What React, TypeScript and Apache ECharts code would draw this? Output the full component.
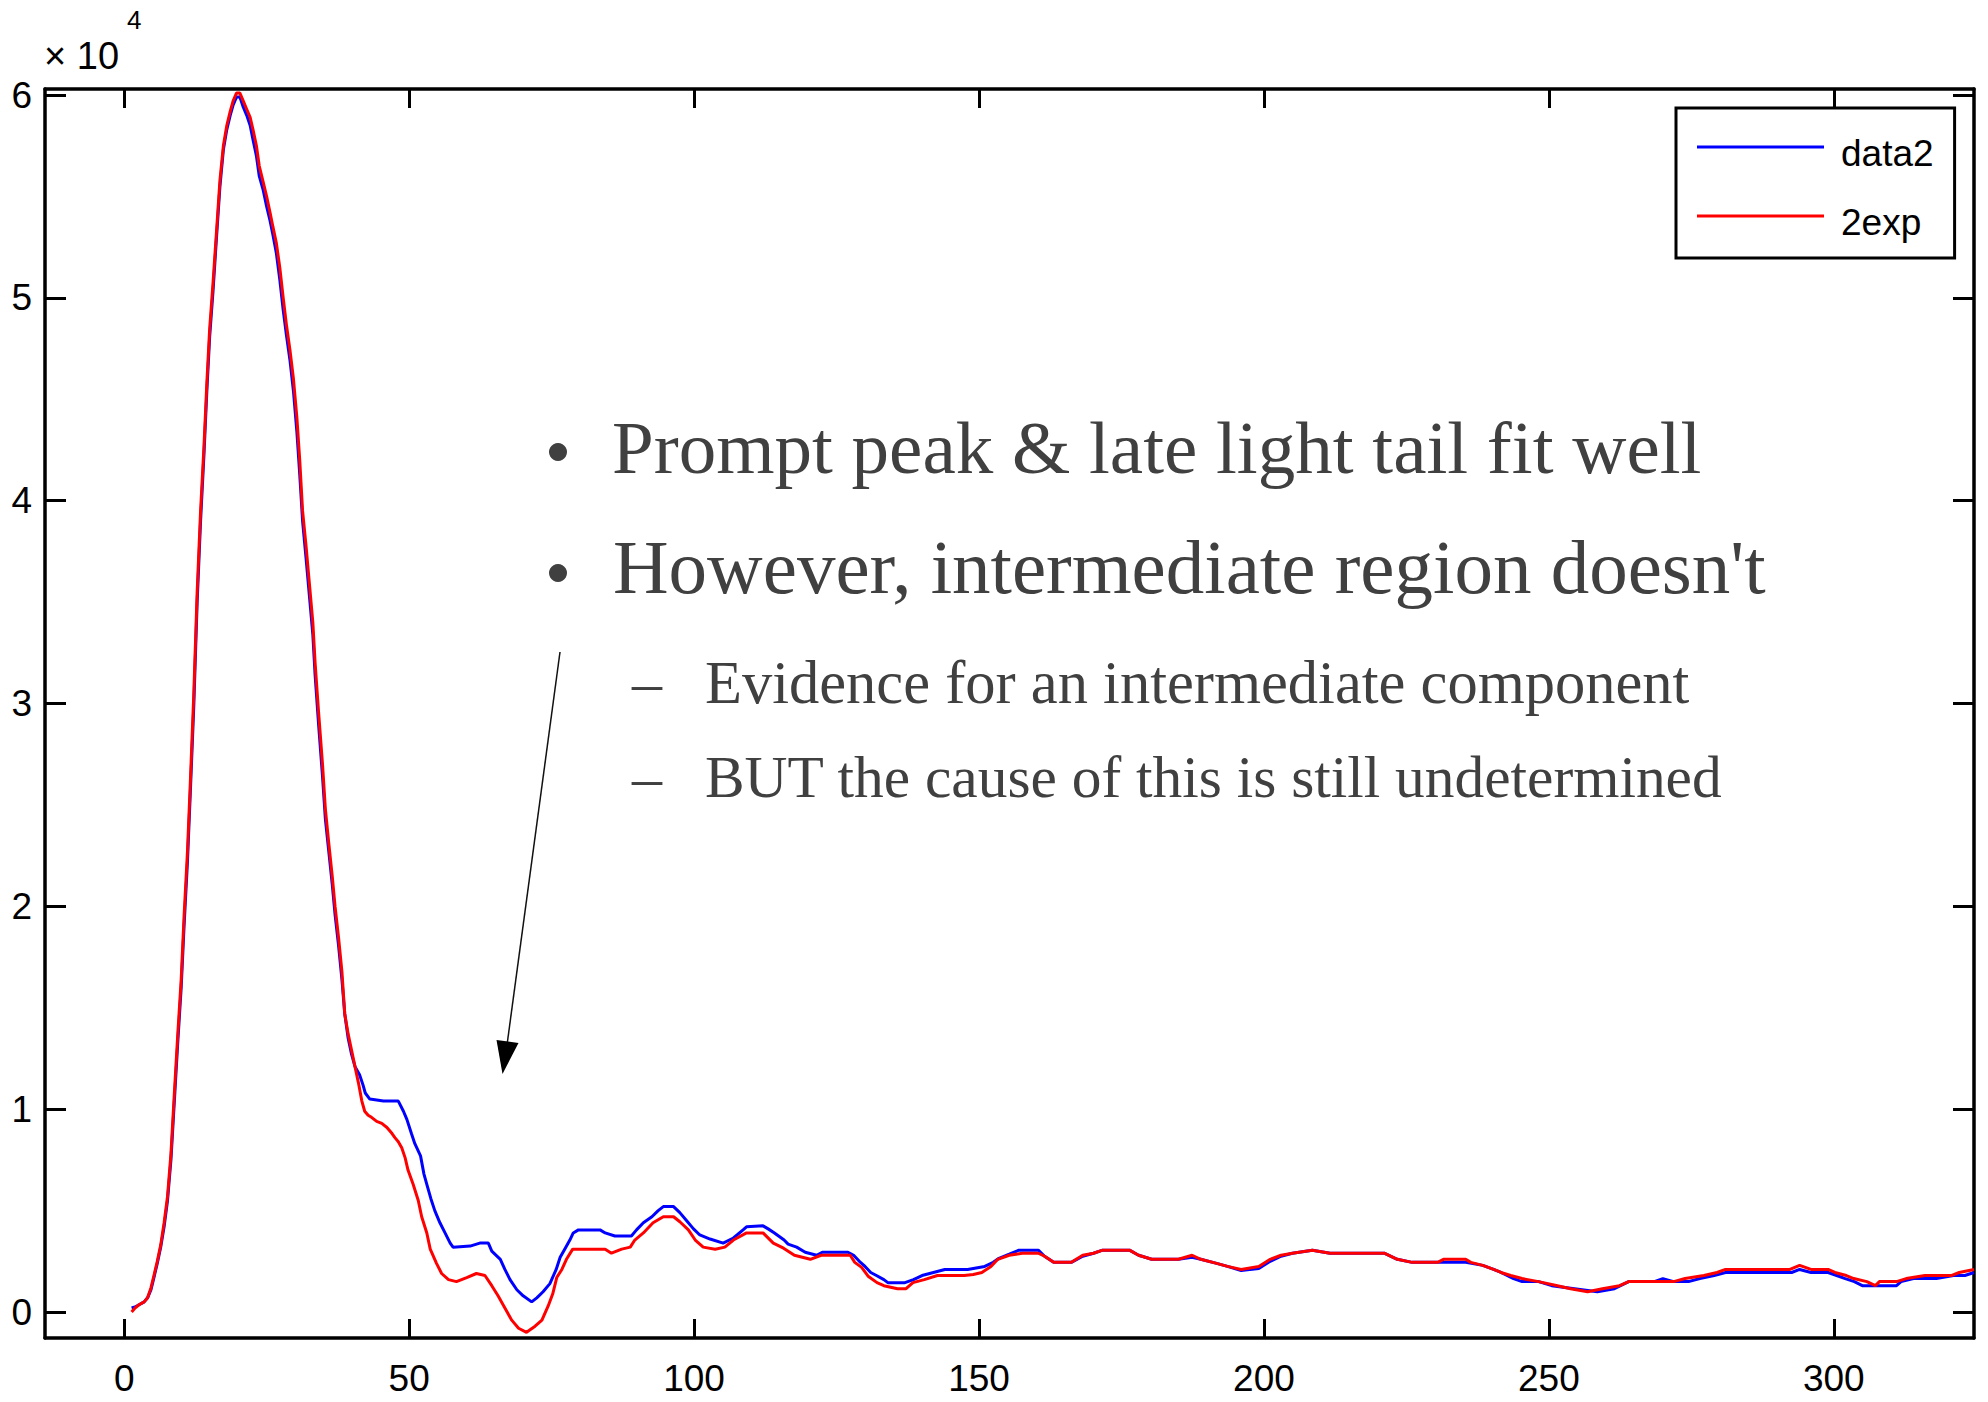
import React, { useEffect, useRef } from "react";
import * as echarts from "echarts";

// ---------- tick labels / axis ranges ----------
const xTicks = [0, 50, 100, 150, 200, 250, 300];
const yTicks = [0, 10000, 20000, 30000, 40000, 50000, 60000];
const X_MIN = -13.9;
const X_MAX = 324.6;
const Y_MIN = -1280;
const Y_MAX = 60300;

const legendNames = ["data2", "2exp"];
const bulletLines = [
  "Prompt peak & late light tail fit well",
  "However, intermediate region doesn't",
];
const subBulletLines = [
  "Evidence for an intermediate component",
  "BUT the cause of this is still undetermined",
];

// ---------- data2 (measured) ----------
const data2Peak: [number, number][] = [
  [1.3, 200], [1.9, 250], [2.6, 360], [3.5, 500], [4.1, 700], [4.7, 1100], [5.3, 1800], [5.8, 2400],
  [6.4, 3200], [7.0, 4200], [7.6, 5500], [8.2, 7500], [8.8, 10400], [9.4, 13300], [10.0, 16000],
  [10.5, 19000], [11.1, 22200], [11.6, 25600], [12.2, 29800], [12.8, 35000], [13.4, 39000],
  [14.0, 42300], [14.5, 45400], [15.0, 48100], [15.6, 50400], [16.2, 53000], [16.8, 55500],
  [17.4, 57300], [18.0, 58300], [18.6, 59000], [19.1, 59500], [19.7, 59900], [20.3, 59900],
  [20.9, 59400], [21.5, 59000], [22.1, 58500], [22.6, 57800], [23.2, 57000], [23.7, 56000],
  [24.4, 55300], [25.0, 54500], [25.6, 53800], [26.1, 53100], [26.7, 52200], [27.3, 50900],
  [27.9, 49400], [28.5, 48100], [29.1, 46900], [29.7, 45400], [30.3, 43400], [30.8, 41300],
  [31.3, 39000], [31.9, 37200], [32.5, 35300], [33.1, 33400], [33.5, 31400], [34.1, 29000],
  [34.8, 26400], [35.3, 24300], [35.9, 22700], [36.5, 21100], [37.0, 19600], [37.6, 18100],
  [38.2, 16400], [38.7, 14700], [39.3, 13500], [39.9, 12700], [40.5, 12100], [41.3, 11700],
  [41.9, 11200], [42.3, 10800], [43.1, 10500], [45.5, 10400], [48.1, 10400],
];
const data2Mid: [number, number][] = [
  [49.0, 9900], [49.6, 9500], [50.4, 8800], [51.0, 8300], [52.0, 7700], [52.6, 6800], [53.2, 6200],
  [53.8, 5600], [54.5, 5000], [55.4, 4400], [56.3, 3900], [57.2, 3400], [57.7, 3200], [60.7, 3250],
  [62.4, 3400], [63.9, 3400], [64.5, 3000], [66.0, 2600], [66.8, 2100], [67.7, 1600], [68.9, 1100],
  [70.0, 800], [71.5, 500], [72.4, 700], [73.5, 1000], [74.7, 1400], [75.8, 2100], [76.5, 2700],
  [77.3, 3100], [78.2, 3550], [78.8, 3900], [79.7, 4050], [83.5, 4050], [84.4, 3900], [86.1, 3750],
  [89.0, 3750], [89.9, 4050], [91.1, 4400], [92.6, 4700], [93.7, 5000], [94.6, 5200], [96.4, 5200],
  [97.5, 4900], [98.7, 4500], [99.9, 4100], [101.0, 3800], [102.8, 3600], [105.1, 3400],
  [106.9, 3650], [108.6, 4050], [109.2, 4200], [112.1, 4250], [113.0, 4100], [114.1, 3900],
  [115.8, 3550], [116.5, 3350], [118.0, 3200], [119.5, 2950], [121.5, 2800], [122.5, 2950],
  [127.0, 2950], [128.0, 2800], [129.0, 2500], [130.0, 2250], [131.0, 1950], [132.0, 1800],
  [133.3, 1600], [134.0, 1450], [137.0, 1450], [138.5, 1600], [140.0, 1800], [142.0, 1950],
  [144.0, 2100], [148.0, 2100],
];
const data2Tail: [number, number][] = [
  [151.0, 2250], [152.5, 2450], [153.5, 2650], [155.3, 2850], [157.0, 3050], [160.4, 3050],
  [161.5, 2750], [163.1, 2450], [166.2, 2450], [168.2, 2750], [170.1, 2900], [171.7, 3050],
  [176.4, 3050], [178.0, 2800], [180.3, 2600], [185.0, 2600], [187.4, 2700], [188.9, 2600],
  [191.7, 2400], [193.6, 2250], [196.0, 2050], [199.1, 2150], [201.1, 2500], [203.0, 2750],
  [205.0, 2900], [208.5, 3050], [211.6, 2900], [221.1, 2900], [223.4, 2600], [226.0, 2450],
  [235.4, 2450], [238.4, 2300], [240.3, 2100], [241.6, 1950], [243.8, 1650], [245.3, 1500],
  [248.2, 1500], [250.5, 1300], [254.5, 1150], [258.5, 1000], [261.5, 1150], [264.0, 1500],
  [268.5, 1500], [270.0, 1650], [271.9, 1500], [274.5, 1500], [276.5, 1650], [279.0, 1800],
  [281.0, 1950], [292.6, 1950], [294.0, 2100], [296.0, 1950], [299.0, 1950], [300.5, 1800],
  [302.0, 1650], [303.6, 1500], [305.0, 1300], [311.0, 1300], [311.8, 1500], [314.0, 1650],
  [318.0, 1650], [321.0, 1800], [323.0, 1800], [324.6, 1950],
];

// ---------- 2exp (fit) ----------
const fitPeak: [number, number][] = [
  [1.3, 0], [1.9, 200], [2.6, 360], [3.5, 500], [4.1, 700], [4.7, 1200], [5.3, 1900], [5.8, 2500],
  [6.4, 3300], [7.0, 4400], [7.6, 5700], [8.2, 7800], [8.8, 10800], [9.4, 13700], [10.0, 16400],
  [10.5, 19500], [11.1, 22700], [11.6, 26100], [12.2, 30400], [12.8, 35500], [13.4, 39500],
  [14.0, 42700], [14.5, 45800], [15.0, 48500], [15.6, 50800], [16.2, 53300], [16.8, 55800],
  [17.4, 57500], [18.0, 58500], [18.6, 59200], [19.1, 59700], [19.7, 60100], [20.3, 60100],
  [20.9, 59700], [21.5, 59300], [22.1, 58900], [22.6, 58300], [23.2, 57500], [23.7, 56500],
  [24.4, 55700], [25.0, 55000], [25.6, 54200], [26.1, 53500], [26.7, 52700], [27.3, 51500],
  [27.9, 50000], [28.5, 48600], [29.1, 47400], [29.7, 46000], [30.3, 44100], [30.8, 42000],
  [31.3, 39500], [31.9, 37800], [32.5, 35900], [33.1, 34000], [33.5, 32000], [34.1, 29600],
  [34.8, 27000], [35.3, 24800], [35.9, 23100], [36.5, 21500], [37.0, 20000], [37.6, 18500],
  [38.2, 16800], [38.7, 14700], [39.3, 13700], [39.9, 12900], [40.5, 12100], [41.1, 11300],
  [41.7, 10400], [42.2, 9900], [42.8, 9700], [43.4, 9600], [44.3, 9400], [45.2, 9300],
  [46.1, 9100], [47.0, 8800], [47.5, 8600], [48.1, 8400],
];
const fitMid: [number, number][] = [
  [48.7, 8100], [49.3, 7600], [49.8, 7000], [50.7, 6300], [51.6, 5500], [52.2, 4700], [53.1, 3900],
  [53.7, 3100], [54.8, 2400], [55.7, 1900], [56.9, 1600], [58.3, 1500], [60.1, 1700], [61.8, 1900],
  [63.3, 1800], [64.5, 1300], [65.6, 800], [66.8, 200], [68.0, -400], [69.2, -800], [70.6, -1000],
  [72.1, -700], [73.3, -400], [74.4, 300], [75.2, 900], [75.9, 1700], [76.8, 2100], [77.6, 2600],
  [78.7, 3100], [84.4, 3100], [85.5, 2900], [87.3, 3100], [88.8, 3200], [89.6, 3550], [91.1, 3900],
  [92.8, 4400], [94.6, 4700], [96.4, 4700], [97.5, 4450], [99.0, 4050], [100.2, 3550],
  [101.6, 3200], [103.7, 3100], [105.4, 3200], [106.9, 3550], [109.2, 3900], [112.1, 3900],
  [113.9, 3400], [115.7, 3150], [117.6, 2800], [120.4, 2600], [122.3, 2800], [127.4, 2800],
  [128.2, 2450], [129.4, 2200], [130.6, 1750], [132.1, 1450], [133.3, 1300], [135.7, 1150],
  [137.2, 1150], [138.4, 1450], [140.4, 1600], [142.7, 1800], [147.4, 1800], [149.0, 1850],
];
const fitTail: [number, number][] = [
  [150.5, 1950], [152.1, 2250], [153.3, 2600], [155.3, 2800], [157.6, 2900], [160.4, 2900],
  [161.5, 2750], [163.1, 2450], [166.2, 2450], [168.2, 2800], [170.1, 2900], [171.7, 3050],
  [176.4, 3050], [178.0, 2800], [180.3, 2600], [185.0, 2600], [187.4, 2800], [188.9, 2600],
  [191.7, 2400], [193.6, 2250], [196.0, 2100], [199.1, 2250], [201.1, 2600], [203.0, 2800],
  [205.0, 2900], [208.5, 3050], [211.6, 2900], [221.1, 2900], [223.4, 2600], [226.0, 2450],
  [230.5, 2450], [231.5, 2600], [235.4, 2600], [236.3, 2450], [238.4, 2300], [240.3, 2100],
  [241.6, 1950], [243.3, 1800], [245.3, 1650], [248.2, 1500], [251.5, 1300], [253.8, 1150],
  [256.8, 1000], [259.4, 1150], [262.4, 1300], [264.0, 1500], [271.9, 1500], [273.9, 1650],
  [277.2, 1800], [279.5, 1950], [281.0, 2100], [292.3, 2100], [294.0, 2300], [296.0, 2100],
  [299.0, 2100], [300.2, 1950], [302.2, 1800], [303.5, 1650], [305.8, 1500], [307.3, 1300],
  [308.0, 1500], [311.0, 1500], [312.7, 1650], [316.0, 1800], [320.6, 1800], [322.0, 1950],
  [324.6, 2100],
];

const data2Series = [...data2Peak, ...data2Mid, ...data2Tail];
const fitSeries = [...fitPeak, ...fitMid, ...fitTail];

const TICK_FONT = '"Liberation Sans", Arial, sans-serif';
const TEXT_FONT = '"Liberation Serif", "Times New Roman", serif';
const TEXT_COLOR = "#404040";
// legend swatch: a 127x3 bar placed near the top of its icon box
const LEGEND_ICON = "path://M0 0H127V3H0Z M0 15H0.01V15.01H0Z";

function txt(x: number, y: number, text: string, size: number, family: string, fill: string) {
  return {
    type: "text",
    x,
    y,
    style: {
      text,
      font: `${size}px ${family}`,
      fill,
      textAlign: "left",
      textVerticalAlign: "middle",
      align: "left",
      verticalAlign: "middle",
    },
  };
}

export default function App() {
  const ref = useRef<HTMLDivElement>(null);

  useEffect(() => {
    if (!ref.current) return;
    const chart = echarts.init(ref.current, undefined, { renderer: "svg" });
    const axisStroke = { color: "#000", width: 3.5 };
    const tickStroke = { color: "#000", width: 3 };
    const baseX = {
      type: "value",
      min: X_MIN,
      max: X_MAX,
      splitLine: { show: false },
      axisLine: { show: true, onZero: false, lineStyle: axisStroke },
      axisTick: { show: true, inside: true, length: 19, customValues: xTicks, lineStyle: tickStroke },
    };
    const baseY = {
      type: "value",
      min: Y_MIN,
      max: Y_MAX,
      splitLine: { show: false },
      axisLine: { show: true, onZero: false, lineStyle: axisStroke },
      axisTick: { show: true, inside: true, length: 21, customValues: yTicks, lineStyle: tickStroke },
    };
    const option: any = {
      animation: false,
      backgroundColor: "#ffffff",
      grid: { left: 45, right: 14, top: 89, bottom: 64, containLabel: false },
      legend: {
        orient: "vertical",
        left: 1676,
        top: 108,
        icon: LEGEND_ICON,
        symbolKeepAspect: true,
        itemWidth: 127,
        itemHeight: 18,
        itemGap: 29,
        padding: [25, 21, 16, 21],
        borderColor: "#000",
        borderWidth: 3,
        backgroundColor: "#fff",
        itemStyle: { borderWidth: 0 },
        textStyle: {
          fontFamily: TICK_FONT,
          fontSize: 37,
          color: "#000",
          lineHeight: 40,
          padding: [0, 0, 0, 12],
        },
        data: legendNames,
      },
      xAxis: [
        {
          ...baseX,
          position: "bottom",
          axisLabel: {
            show: true,
            customValues: xTicks,
            fontFamily: TICK_FONT,
            fontSize: 37,
            color: "#000",
            margin: 22,
          },
        },
        { ...baseX, position: "top", axisLabel: { show: false } },
      ],
      yAxis: [
        {
          ...baseY,
          position: "left",
          axisLabel: {
            show: true,
            customValues: yTicks,
            fontFamily: TICK_FONT,
            fontSize: 37,
            color: "#000",
            margin: 13,
            formatter: (v: number) => String(Math.round(v / 10000)),
          },
        },
        { ...baseY, position: "right", axisLabel: { show: false } },
      ],
      series: [
        {
          name: legendNames[0],
          type: "line",
          xAxisIndex: 0,
          yAxisIndex: 0,
          data: data2Series,
          showSymbol: false,
          symbol: "none",
          color: "#0000ff",
          lineStyle: { color: "#0000ff", width: 3 },
          z: 2,
        },
        {
          name: legendNames[1],
          type: "line",
          xAxisIndex: 0,
          yAxisIndex: 0,
          data: fitSeries,
          showSymbol: false,
          symbol: "none",
          color: "#ff0000",
          lineStyle: { color: "#ff0000", width: 3 },
          z: 3,
        },
      ],
      graphic: [
        txt(44, 56, "× 10", 38, TICK_FONT, "#000"),
        txt(127, 20, "4", 26, TICK_FONT, "#000"),
        { type: "circle", shape: { cx: 558, cy: 452, r: 9 }, style: { fill: TEXT_COLOR } },
        { type: "circle", shape: { cx: 558, cy: 573, r: 9 }, style: { fill: TEXT_COLOR } },
        txt(612, 447, bulletLines[0], 75, TEXT_FONT, TEXT_COLOR),
        txt(613, 567, bulletLines[1], 77, TEXT_FONT, TEXT_COLOR),
        txt(632, 682, "–", 60, TEXT_FONT, TEXT_COLOR),
        txt(705, 682, subBulletLines[0], 60.5, TEXT_FONT, TEXT_COLOR),
        txt(632, 777, "–", 60, TEXT_FONT, TEXT_COLOR),
        txt(705, 777, subBulletLines[1], 59.4, TEXT_FONT, TEXT_COLOR),
        {
          type: "line",
          shape: { x1: 560, y1: 652, x2: 507, y2: 1045 },
          style: { stroke: "#111", lineWidth: 1.5 },
        },
        {
          type: "polygon",
          shape: { points: [[496.5, 1040], [518.5, 1043], [502.5, 1074]] },
          style: { fill: "#000" },
        },
      ],
    };
    chart.setOption(option);
    return () => chart.dispose();
  }, []);

  return (
    <div
      ref={ref}
      style={{ position: "absolute", left: 0, top: 0, width: 1988, height: 1402, background: "#fff" }}
    />
  );
}
